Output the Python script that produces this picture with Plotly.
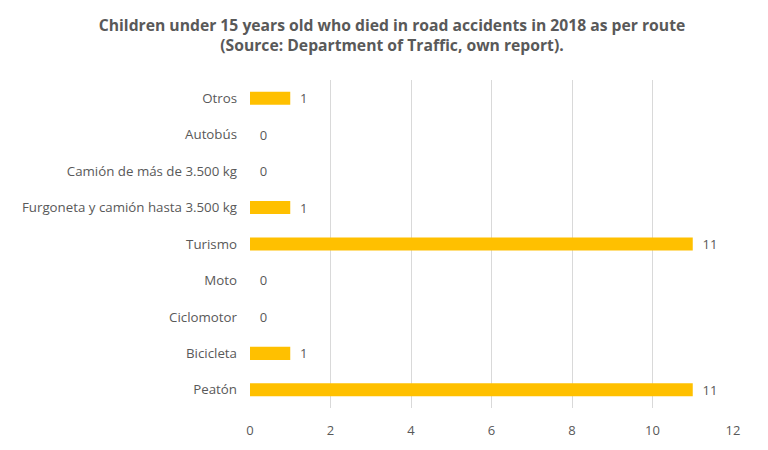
import plotly.graph_objects as go

# Categorías (de abajo hacia arriba, como en el gráfico)
categorias = ["Peatón", "Bicicleta", "Ciclomotor", "Moto", "Turismo",
              "Furgoneta y camión hasta 3.500 kg", "Camión de más de 3.500 kg",
              "Autobús", "Otros"]
fallecidos = [11, 1, 0, 0, 11, 1, 0, 0, 1]
x_ticks = [0, 2, 4, 6, 8, 10, 12]

gris = "#595959"

fig = go.Figure()
fig.add_trace(go.Bar(
    x=fallecidos, y=categorias, orientation="h",
    marker=dict(color="#FFC000", line=dict(width=0)),
    width=0.36,
    text=["  " + str(v) for v in fallecidos], textposition="outside",
    constraintext="none",
    textfont=dict(size=13, color=gris),
    cliponaxis=False,
))

fig.update_layout(
    width=768, height=450,
    paper_bgcolor="white", plot_bgcolor="white",
    margin=dict(l=242, r=43, t=72, b=50, autoexpand=False),
    font=dict(family="Open Sans, sans-serif", color=gris, size=12),
    title=dict(
        text="<b>Children under 15 years old who died in road accidents in 2018 as per route<br>(Source: Department of Traffic, own report).</b>",
        x=0.5, xanchor="center", y=0.95, yanchor="top",
        font=dict(size=15.7, color=gris),
    ),
    showlegend=False,
)
fig.update_xaxes(range=[0, 12], tickvals=x_ticks, showgrid=True, gridcolor="#d9d9d9",
                 gridwidth=1, zeroline=False, showline=False, ticks="",
                 automargin=False, ticklabelstandoff=13,
                 tickfont=dict(size=13, color=gris))
fig.update_yaxes(showgrid=False, zeroline=False, showline=False, ticks="",
                 automargin=False, ticklabelstandoff=12,
                 tickfont=dict(size=13.3, color=gris))

fig.write_html("out.html")
